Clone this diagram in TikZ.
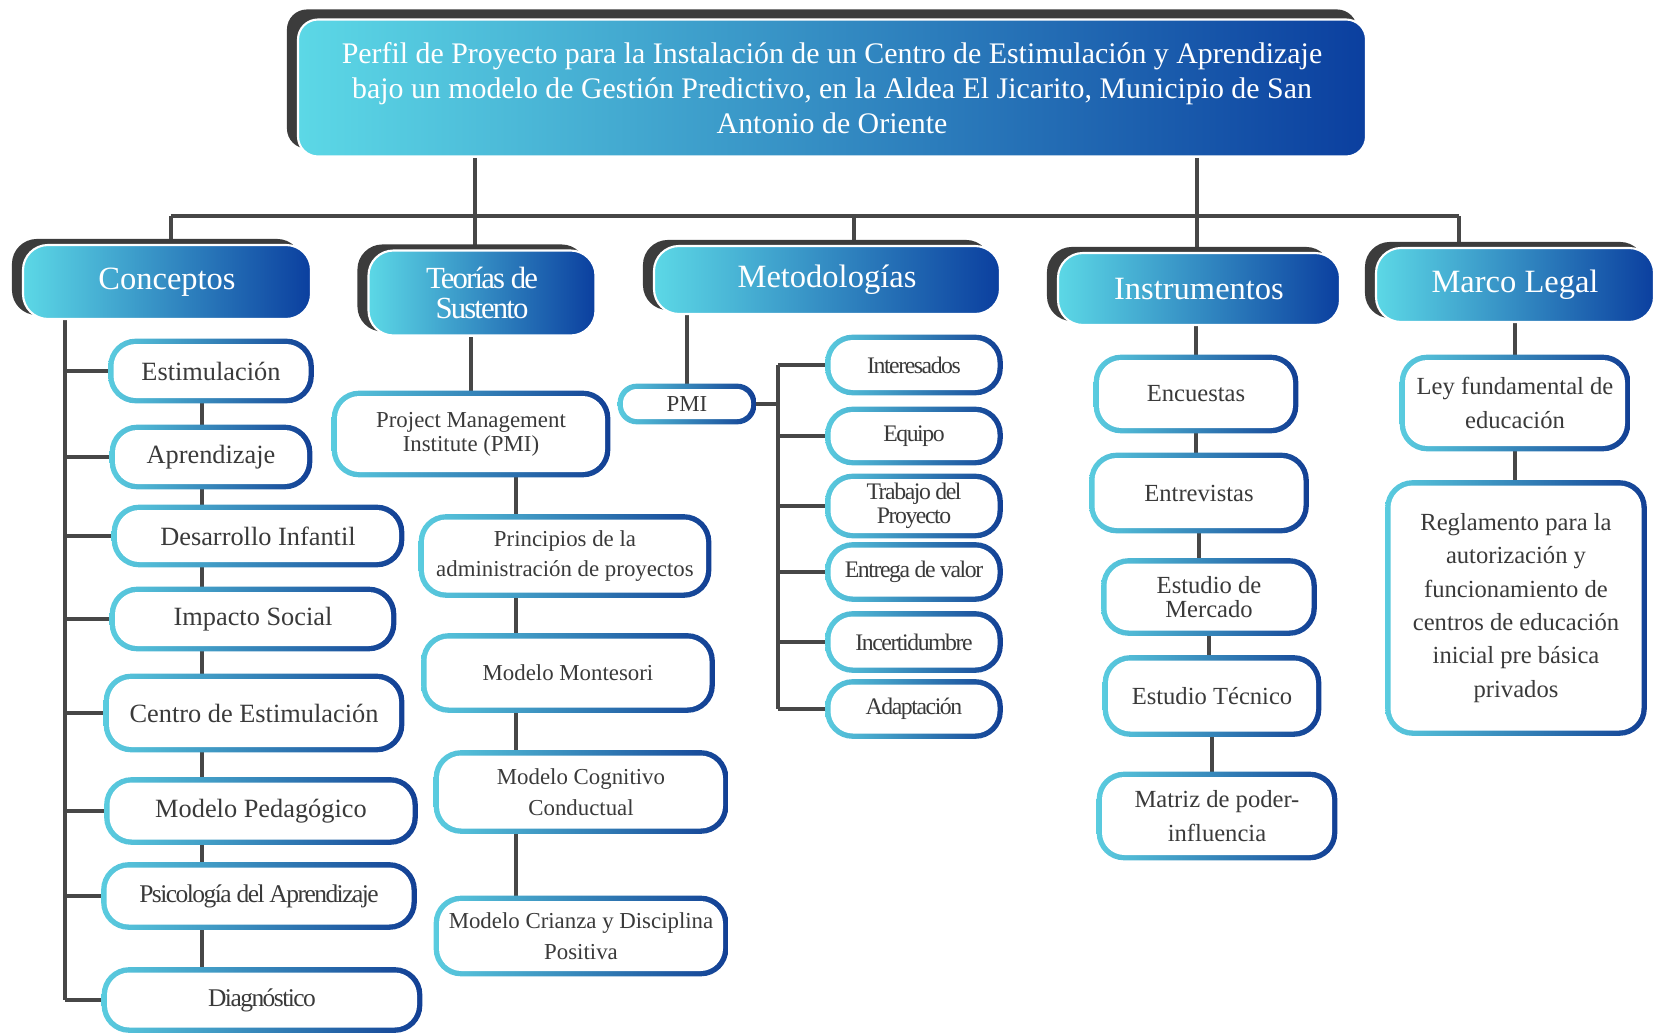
\documentclass[tikz,border=0pt]{standalone}
\usepackage{fontspec}
\setmainfont{Liberation Serif}
\newfontfamily\narrowserif[LetterSpace=-6]{Liberation Serif}
\usetikzlibrary{backgrounds}
\definecolor{HeadCyan} {HTML}{5CD8E6}
\definecolor{HeadBlue} {HTML}{0B3F9F}
\definecolor{RingCyan} {HTML}{5ACCDF}
\definecolor{RingBlue} {HTML}{123F94}
\definecolor{LinkGray} {HTML}{474747}
\definecolor{ShadeGray}{HTML}{3C3C3C}
\definecolor{InkGray}  {HTML}{3A3A3A}
\tikzset{
  sz/.style 2 args={minimum width=#1*0.02cm,minimum height=#2*0.02cm},
  head/.style={rectangle,rounded corners=0.5cm,draw=white,line width=1.2pt,
               left color=HeadCyan,right color=HeadBlue,text=white,align=center,
               font=\fontsize{18.5}{18}\selectfont,inner sep=1pt},
  kid/.style={rectangle,rounded corners=0.45cm,fill=white,text=InkGray,
              align=center,inner sep=1pt,font=\fontsize{15}{19}\selectfont},
  teo/.style={kid,font=\fontsize{13}{17.5}\selectfont},
  met/.style={kid,font=\narrowserif\fontsize{13.5}{13.8}\selectfont},
  ins/.style={kid,font=\fontsize{14}{19}\selectfont},
  link/.style={line width=2.6pt,color=LinkGray},
}
\begin{document}
\begin{tikzpicture}[x=0.02cm,y=-0.02cm]
  \useasboundingbox (0,0) rectangle (1654,1034);

  \node[head,rounded corners=0.4cm,sz={1068}{137},font=\fontsize{17}{19.8}\selectfont]
    (T) at (832,88){Perfil de Proyecto para la Instalación de un Centro de Estimulación y Aprendizaje\\
    bajo un modelo de Gestión Predictivo, en la Aldea El Jicarito, Municipio de San\\
    Antonio de Oriente};

  \node[head,sz={288}{74}] (hConc) at (167,282){Conceptos};
  \node[head,sz={227}{85},font=\narrowserif\fontsize{17.5}{17}\selectfont] (hTeo) at (482,293){Teorías de\\Sustento};
  \node[head,sz={346}{68}] (hMet) at (827,280){Metodologías};
  \node[head,sz={282}{72}] (hIns) at (1199,289){Instrumentos};
  \node[head,sz={278}{74}] (hLeg) at (1515,285){Marco Legal};

  \node[kid,sz={195}{54}] (c1) at (211,371){Estimulación};
  \node[kid,sz={192}{54}] (c2) at (211,457){Aprendizaje};
  \node[kid,sz={282}{52}] (c3) at (258,536){Desarrollo Infantil};
  \node[kid,sz={276}{54}] (c4) at (253,619){Impacto Social};
  \node[kid,sz={290}{68}] (c5) at (254,713){Centro de Estimulación};
  \node[kid,sz={303}{57}] (c6) at (261,811){Modelo Pedagógico};
  \node[kid,sz={305}{57},font=\narrowserif\fontsize{14.5}{18}\selectfont] (c7) at (259,896){Psicología del Aprendizaje};
  \node[kid,sz={310}{55},font=\narrowserif\fontsize{14.5}{18}\selectfont] (c8) at (262,1000){Diagnóstico};

  \node[teo,sz={268}{76},font=\fontsize{13}{13.8}\selectfont] (t1) at (471,434){Project Management\\Institute (PMI)};
  \node[teo,sz={282}{73}] (t2) at (565,556){Principios de la\\administración de proyectos};
  \node[teo,sz={283}{69}] (t3) at (568,673){Modelo Montesori};
  \node[teo,sz={284}{73}] (t4) at (581,792){Modelo Cognitivo\\Conductual};
  \node[teo,sz={284}{70}] (t5) at (581,936){Modelo Crianza y Disciplina\\Positiva};

  \node[kid,rounded corners=0.28cm,sz={128}{30},font=\fontsize{13}{14}\selectfont] (mPMI) at (687,404){PMI};
  \node[met,sz={167}{50}] (m1) at (914,365){Interesados};
  \node[met,sz={167}{48}] (m2) at (914,436){Equipo};
  \node[met,sz={167}{54}] (m3) at (914,506){Trabajo del\\Proyecto};
  \node[met,sz={167}{49}] (m4) at (914,572){Entrega de valor};
  \node[met,sz={167}{51}] (m5) at (914,642){Incertidumbre};
  \node[met,sz={167}{49}] (m6) at (914,709){Adaptación};

  \node[ins,sz={194}{68}] (i1) at (1196,394){Encuestas};
  \node[ins,sz={209}{70}] (i2) at (1199,493){Entrevistas};
  \node[ins,sz={205}{67},font=\fontsize{14}{14}\selectfont] (i3) at (1209,597){Estudio de\\Mercado};
  \node[ins,sz={208}{71}] (i4) at (1212,696){Estudio Técnico};
  \node[ins,sz={230}{78}] (i5) at (1217,816){Matriz de poder-\\influencia};

  \node[ins,sz={220}{86}] (l1) at (1515,403){Ley fundamental de\\educación};
  \node[ins,sz={251}{245}] (l2) at (1516,608){Reglamento para la\\autorización y\\funcionamiento de\\centros de educación\\inicial pre básica\\privados};

  \begin{pgfonlayer}{background}
    \coordinate (bConc) at (171,216);
    \coordinate (bTeo)  at (475,216);
    \coordinate (bMet)  at (854,216);
    \coordinate (bIns)  at (1197,216);
    \coordinate (bLeg)  at (1459,216);
    \coordinate (cBus)  at (65,0);
    \coordinate (cLink) at (202,0);
    \coordinate (tLink) at (516,0);
    \coordinate (mBus)  at (778,0);

    \draw[link] (bTeo |- T.south) -- (bTeo);
    \draw[link] (bIns |- T.south) -- (bIns);
    \draw[link] (bConc) -- (bLeg);
    \draw[link] (bConc) -- (bConc |- hConc.north);
    \draw[link] (bTeo) -- (bTeo |- hTeo.north);
    \draw[link] (bMet) -- (bMet |- hMet.north);
    \draw[link] (bIns) -- (bIns |- hIns.north);
    \draw[link] (bLeg) -- (bLeg |- hLeg.north);

    \draw[link] (cBus |- hConc.south) -- (cBus |- c8.west);
    \foreach \k in {1,...,8}
      \draw[link] (cBus |- c\k.west) -- (c\k.west);
    \foreach \k [evaluate=\k as \j using int(\k+1)] in {1,...,7}
      \draw[link] (c\k.south -| cLink) -- (c\j.north -| cLink);

    \draw[link] (t1.north) -- (t1.north |- hTeo.south);
    \foreach \k [evaluate=\k as \j using int(\k+1)] in {1,...,4}
      \draw[link] (t\k.south -| tLink) -- (t\j.north -| tLink);

    \draw[link] (mPMI.north) -- (mPMI.north |- hMet.south);
    \draw[link] (mPMI.east) -- (mPMI.east -| mBus);
    \draw[link] (mBus |- m1.west) -- (mBus |- m6.west);
    \foreach \k in {1,...,6}
      \draw[link] (mBus |- m\k.west) -- (m\k.west);

    \draw[link] (i1.north) -- (i1.north |- hIns.south);
    \foreach \k [evaluate=\k as \j using int(\k+1)] in {1,...,4}
      \draw[link] (i\k.south) -- (i\k.south |- i\j.north);

    \draw[link] (l1.north) -- (l1.north |- hLeg.south);
    \draw[link] (l1.south) -- (l1.south |- l2.north);

    \fill[ShadeGray,rounded corners=0.4cm]
      ([shift={(-0.2cm,0.18cm)}]T.south west) rectangle ([shift={(-0.2cm,0.18cm)}]T.north east);
    \foreach \n in {hConc,hTeo,hMet,hIns,hLeg}
      \fill[ShadeGray,rounded corners=0.5cm]
        ([shift={(-0.2cm,0.1cm)}]\n.south west) rectangle ([shift={(-0.2cm,0.1cm)}]\n.north east);
    \foreach \n in {c1,c2,c3,c4,c5,c6,c7,c8,t1,t2,t3,t4,t5,m1,m2,m3,m4,m5,m6,i1,i2,i3,i4,i5,l1,l2}
      \shade[left color=RingCyan,right color=RingBlue,rounded corners=0.55cm]
        ([shift={(-0.1cm,-0.1cm)}]\n.south west) rectangle ([shift={(0.1cm,0.1cm)}]\n.north east);
    \shade[left color=RingCyan,right color=RingBlue,rounded corners=0.38cm]
      ([shift={(-0.1cm,-0.1cm)}]mPMI.south west) rectangle ([shift={(0.1cm,0.1cm)}]mPMI.north east);
  \end{pgfonlayer}
\end{tikzpicture}
\end{document}
